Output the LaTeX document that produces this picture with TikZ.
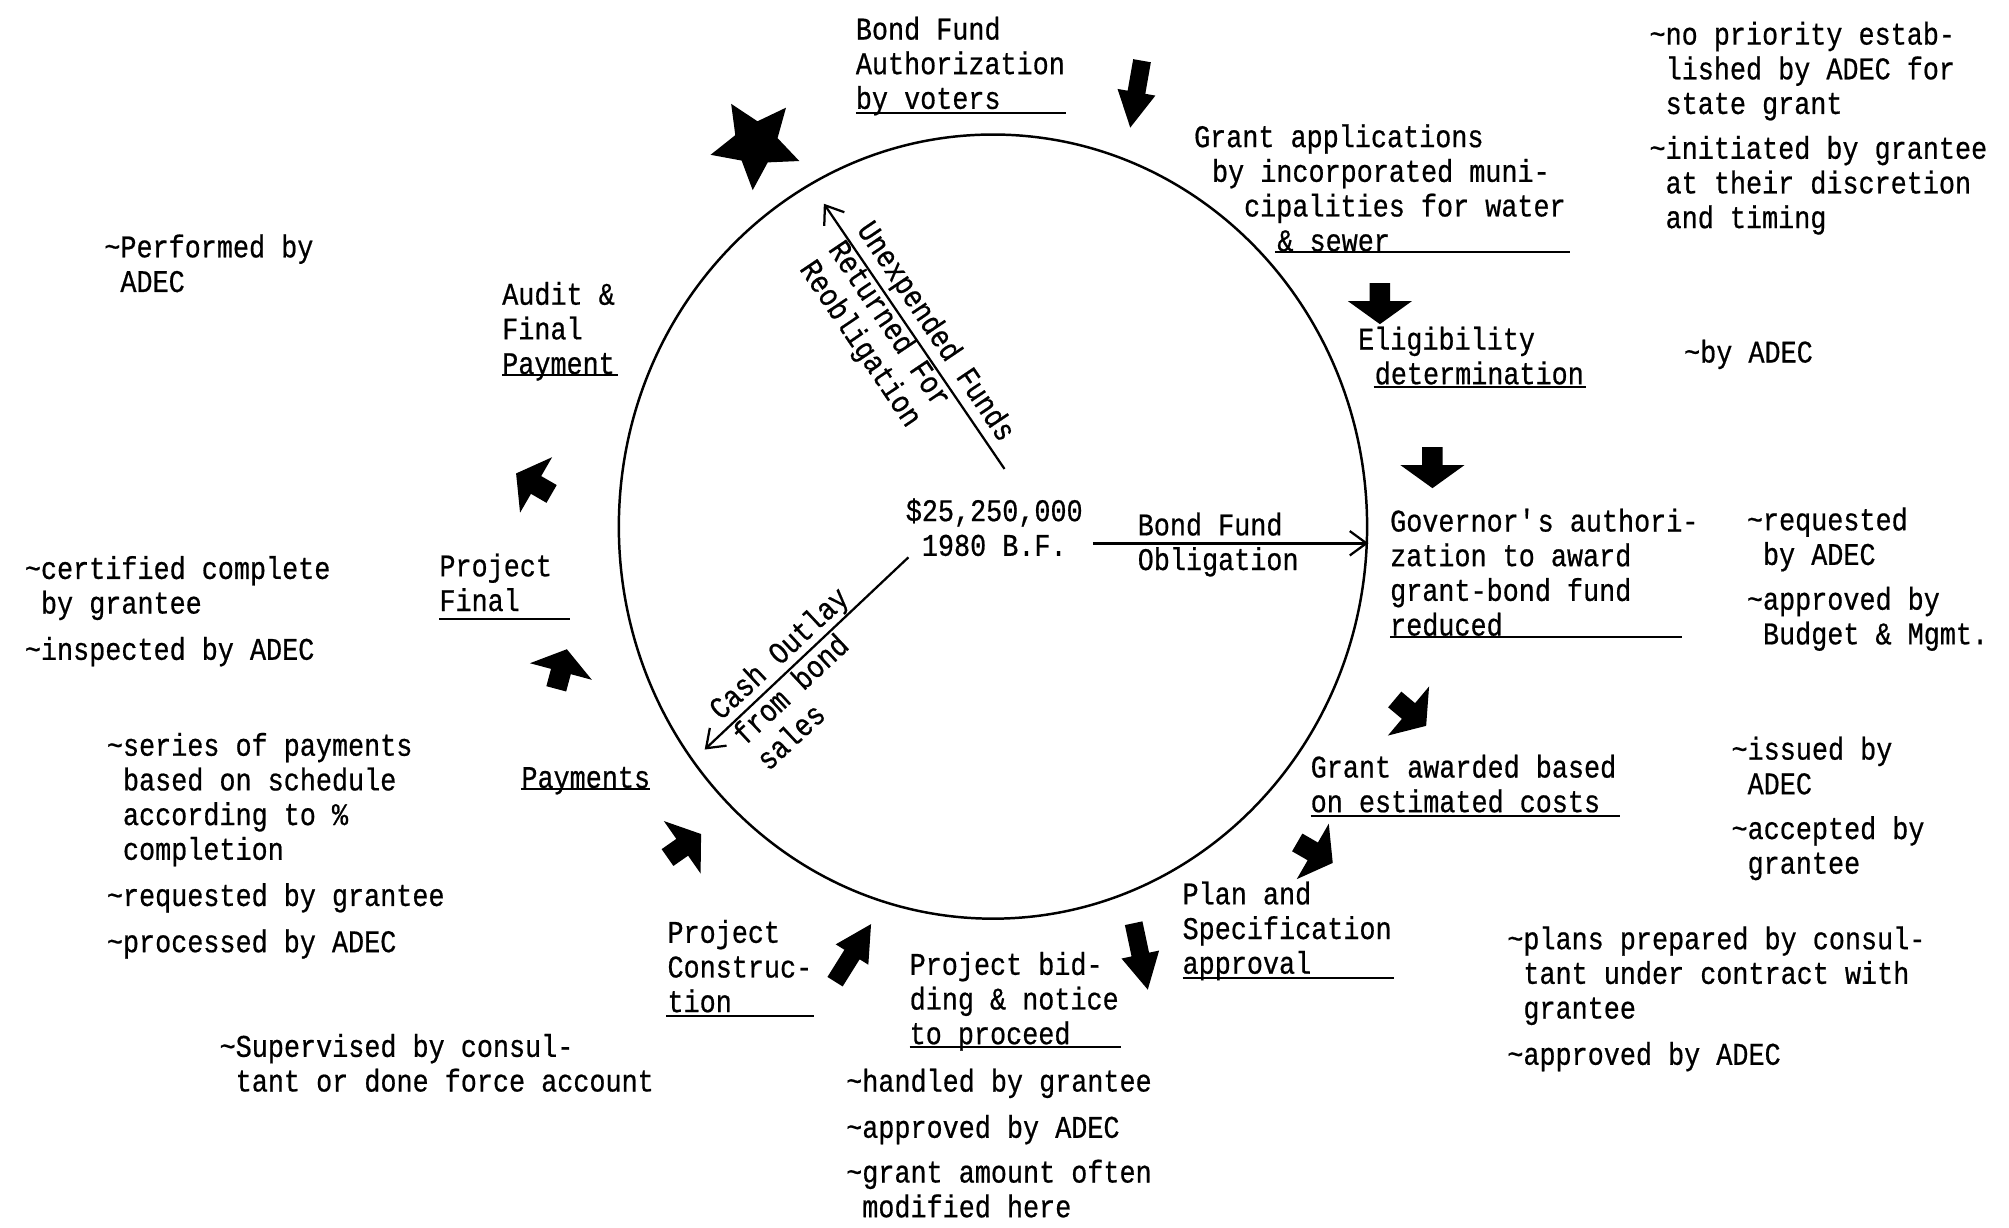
\documentclass[tikz,border=0pt]{standalone}
\usepackage{fontspec}
\usepackage{tikz}
\usetikzlibrary{positioning}
\usetikzlibrary{arrows.meta}
\usetikzlibrary{shapes.geometric}
\newfontfamily\typewriter{Liberation Mono}[FakeStretch=0.85,FakeBold=0.6]
\tikzset{
   typed/.style={font=\typewriter\fontsize{14}{15.4}\selectfont, align=left, inner sep=0pt, outer sep=0pt, anchor=north west, execute at begin node=\strut, execute at end node=\strut},
   stageLabel/.style={typed},
   noteLabel/.style={typed},
   underRule/.style={draw=black, line width=0.9pt},
   cycleRing/.style={draw=black, line width=1.1pt, shape=ellipse, inner sep=0pt, minimum width=116.8mm, minimum height=122.4mm},
   flowArrow/.style={draw=black, line width=1pt, -{Straight Barb[length=2.6mm,width=3.8mm,line width=1pt]}},
   ballotStar/.style={shape=star, star points=5, star point ratio=2.1, fill=black, inner sep=0pt, minimum size=14.6mm},
   pics/blob/.style={code={\fill[black] (-11,-8) -- (3,-8) -- (3,-25) -- (21,0) -- (3,25) -- (3,8) -- (-11,8) -- cycle;}},
   pics/bolt/.style={code={\fill[black] (-25,-7) -- (0,-7) -- (0,-15) -- (28,0) -- (0,15) -- (0,7) -- (-25,7) -- cycle;}},
}
\newcommand{\bul}{\llap{\textasciitilde}}

\begin{document}
\begin{tikzpicture}[x=0.2mm,y=-0.2mm,node distance=1.8mm]
  \useasboundingbox[fill=white] (0,0) rectangle (1568,958);
  %
  \node[cycleRing] (ring) at (775,411) {};
  \node[typed, anchor=north, align=center] (fund) at (776,389) {\$25,250,000\\1980 B.F.};
  %
  % stages round the cycle
  %
  \node[stageLabel] (voters) at (668,13) {Bond Fund\\Authorization\\by voters};
  \draw[underRule] (668,88) -- (832,88);
  \node[stageLabel] (grantApp) at (932,97) {Grant applications\\\hspace*{2.8mm}by incorporated muni-\\\hspace*{7.8mm}cipalities for water\\\hspace*{13mm}\& sewer};
  \draw[underRule] (995,197) -- (1225,197);
  \node[stageLabel] (eligible) at (1060,255) {Eligibility\\\hspace*{2.6mm}determination};
  \draw[underRule] (1072,302) -- (1238,302);
  \node[stageLabel] (governor) at (1085,397) {Governor\textquotesingle s authori-\\zation to award\\grant-bond fund\\reduced};
  \draw[underRule] (1085,497) -- (1313,497);
  \node[stageLabel] (grantAward) at (1023,589) {Grant awarded based\\on estimated costs};
  \draw[underRule] (1023,637) -- (1264,637);
  \node[stageLabel] (planSpec) at (923,688) {Plan and\\Specification\\approval};
  \draw[underRule] (923,763) -- (1088,763);
  \node[stageLabel] (bidding) at (710,743) {Project bid-\\ding \& notice\\to proceed};
  \draw[underRule] (710,817) -- (875,817);
  \node[stageLabel] (construct) at (521,718) {Project\\Construc-\\tion};
  \draw[underRule] (520,793) -- (635,793);
  \node[stageLabel] (payments) at (407,596) {Payments};
  \draw[underRule] (407,616) -- (507,616);
  \node[stageLabel] (projFinal) at (343,432) {Project\\Final};
  \draw[underRule] (343,483) -- (445,483);
  \node[stageLabel] (audit) at (392,220) {Audit \&\\Final\\Payment};
  \draw[underRule] (392,293) -- (482,293);
  %
  % the star and the fat arrows between the stages
  %
  \node[ballotStar, rotate=176] (star) at (590,112) {};
  \pic[rotate=-100] at (887,72) {bolt};
  \pic[rotate=-90] at (1077,232) {blob};
  \pic[rotate=-90] at (1118,360) {blob};
  \pic[rotate=-40] at (1097,553) {blob};
  \pic[rotate=-30] at (1022,663) {blob};
  \pic[rotate=-78] at (890,745) {bolt};
  \pic[rotate=58] at (665,745) {bolt};
  \pic[rotate=35] at (530,663) {blob};
  \pic[rotate=75] at (437,527) {blob};
  \pic[rotate=150] at (421,380) {blob};
  %
  % flows out of the fund
  %
  \coordinate (oblTail) at (853,424);
  \coordinate (retTail) at (784,366);
  \coordinate (retTip) at (643,159);
  \coordinate (cashTail) at (709,435);
  \coordinate (cashTip) at (550,585);
  \draw[flowArrow, line width=1.4pt] (oblTail) -- (oblTail -| ring.east);
  \node[typed] (oblLabel) at (888,400) {Bond Fund\\Obligation};
  \draw[flowArrow] (retTail) -- (retTip);
  \node[typed, anchor=west, rotate=-56] (retLabel) at (650,192) {Unexpended Funds\\Returned For\\Reobligation};
  \draw[flowArrow] (cashTail) -- (cashTip);
  \node[typed, anchor=west, rotate=43] (cashLabel) at (578,579) {Cash Outlay\\from bond\\sales};
  %
  % notes
  %
  \node[noteLabel] (noPriority) at (1300,17) {\bul no priority estab-\\lished by ADEC for\\state grant};
  \node[noteLabel, below=of noPriority.south west, anchor=north west] (initiated) {\bul initiated by grantee\\at their discretion\\and timing};
  \node[noteLabel] (eligNote) at (1327,264) {\bul by ADEC};
  \node[noteLabel] (govReq) at (1376,396) {\bul requested\\by ADEC};
  \node[noteLabel, below=of govReq.south west, anchor=north west] (govAppr) {\bul approved by\\Budget \& Mgmt.};
  \node[noteLabel] (awardIss) at (1364,575) {\bul issued by\\ADEC};
  \node[noteLabel, below=of awardIss.south west, anchor=north west] (awardAcc) {\bul accepted by\\grantee};
  \node[noteLabel] (planPrep) at (1189,723) {\bul plans prepared by consul-\\tant under contract with\\grantee};
  \node[noteLabel, below=of planPrep.south west, anchor=north west] (planAppr) {\bul approved by ADEC};
  \node[noteLabel] (bidHand) at (673,833) {\bul handled by grantee};
  \node[noteLabel, below=of bidHand.south west, anchor=north west] (bidAppr) {\bul approved by ADEC};
  \node[noteLabel, below=of bidAppr.south west, anchor=north west] (bidMod) {\bul grant amount often\\modified here};
  \node[noteLabel] (consSup) at (184,807) {\bul Supervised by consul-\\tant or done force account};
  \node[noteLabel] (paySeries) at (96,572) {\bul series of payments\\based on schedule\\according to \%\\completion};
  \node[noteLabel, below=of paySeries.south west, anchor=north west] (payReq) {\bul requested by grantee};
  \node[noteLabel, below=of payReq.south west, anchor=north west] (payProc) {\bul processed by ADEC};
  \node[noteLabel] (finalCert) at (32,434) {\bul certified complete\\by grantee};
  \node[noteLabel, below=of finalCert.south west, anchor=north west] (finalInsp) {\bul inspected by ADEC};
  \node[noteLabel] (auditPerf) at (94,183) {\bul Performed by\\ADEC};
\end{tikzpicture}
\end{document}
